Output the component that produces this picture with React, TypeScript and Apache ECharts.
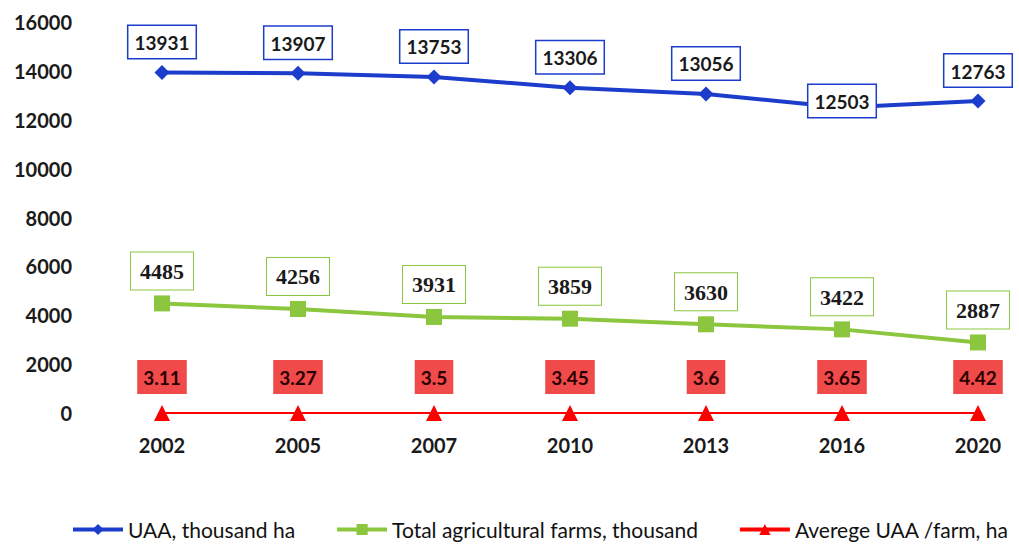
import React, { useEffect, useRef } from "react";
import * as echarts from "echarts";

const years = ["2002", "2005", "2007", "2010", "2013", "2016", "2020"];
const uaa = [13931, 13907, 13753, 13306, 13056, 12503, 12763];
const farms = [4485, 4256, 3931, 3859, 3630, 3422, 2887];
const avgUaa = [3.11, 3.27, 3.5, 3.45, 3.6, 3.65, 4.42];
const seriesNames = [
  "UAA, thousand ha",
  "Total agricultural farms, thousand",
  "Averege UAA /farm, ha",
];

const BLUE = "#1c3ccc";
const GREEN = "#8cc63f";
const RED = "#ff0000";

export default function App() {
  const ref = useRef<HTMLDivElement>(null);
  useEffect(() => {
    if (!ref.current) return;
    const chart = echarts.init(ref.current, null, { renderer: "svg" });
    chart.setOption({
      animation: false,
      backgroundColor: "#ffffff",
      grid: { left: 162, right: 41, top: 22, bottom: 138, containLabel: false },
      legend: {
        bottom: 6,
        left: 66,
        itemWidth: 50,
        itemHeight: 14,
        itemGap: 40,
        lineStyle: { width: 4 },
        textStyle: { fontFamily: "Lato", fontSize: 21, color: "#111" },
        data: seriesNames,
      },
      xAxis: {
        type: "category",
        data: years,
        boundaryGap: false,
        axisLine: { show: false },
        axisTick: { show: false },
        axisLabel: {
          margin: 22,
          fontFamily: "Lato",
          fontWeight: "bold",
          fontSize: 20,
          color: "#1a1a1a",
        },
      },
      yAxis: {
        type: "value",
        min: 0,
        max: 16000,
        interval: 2000,
        splitLine: { show: false },
        axisLine: { show: false },
        axisTick: { show: false },
        axisLabel: {
          margin: 90,
          formatter: (v: number) => String(v),
          fontFamily: "Lato",
          fontWeight: "bold",
          fontSize: 20,
          color: "#1a1a1a",
        },
      },
      series: [
        {
          name: seriesNames[0],
          type: "line",
          data: uaa.map((v, i) =>
            i === 5 ? { value: v, label: { offset: [0, 24] } } : v
          ),
          symbol: "diamond",
          symbolSize: 15,
          lineStyle: { color: BLUE, width: 4 },
          itemStyle: { color: BLUE },
          label: {
            show: true,
            position: "top",
            distance: 7,
            fontFamily: "Lato",
            fontWeight: "bold",
            fontSize: 19,
            color: "#1a1a1a",
            backgroundColor: "#ffffff",
            borderColor: BLUE,
            borderWidth: 1.5,
            padding: [7, 6, 6, 6],
          },
          z: 3,
        },
        {
          name: seriesNames[1],
          type: "line",
          data: farms,
          symbol: "rect",
          symbolSize: 16,
          lineStyle: { color: GREEN, width: 4 },
          itemStyle: { color: GREEN },
          label: {
            show: true,
            position: "top",
            distance: 6,
            fontFamily: "Liberation Serif",
            fontWeight: "bold",
            fontSize: 22,
            color: "#1a1a1a",
            backgroundColor: "#ffffff",
            borderColor: GREEN,
            borderWidth: 1,
            padding: [8, 9, 7, 9],
          },
          z: 2,
        },
        {
          name: seriesNames[2],
          type: "line",
          data: avgUaa,
          symbol: "triangle",
          symbolSize: 16,
          lineStyle: { color: RED, width: 2 },
          itemStyle: { color: RED },
          label: {
            show: true,
            position: "top",
            distance: 11,
            fontFamily: "Lato",
            fontWeight: "bold",
            fontSize: 19,
            color: "#2a0000",
            backgroundColor: "#f04a4a",
            padding: [8, 6, 7, 6],
          },
          z: 1,
        },
      ],
    });
    return () => chart.dispose();
  }, []);
  return (
    <div
      ref={ref}
      style={{ position: "fixed", left: 0, top: 0, width: 1019, height: 551 }}
    />
  );
}
